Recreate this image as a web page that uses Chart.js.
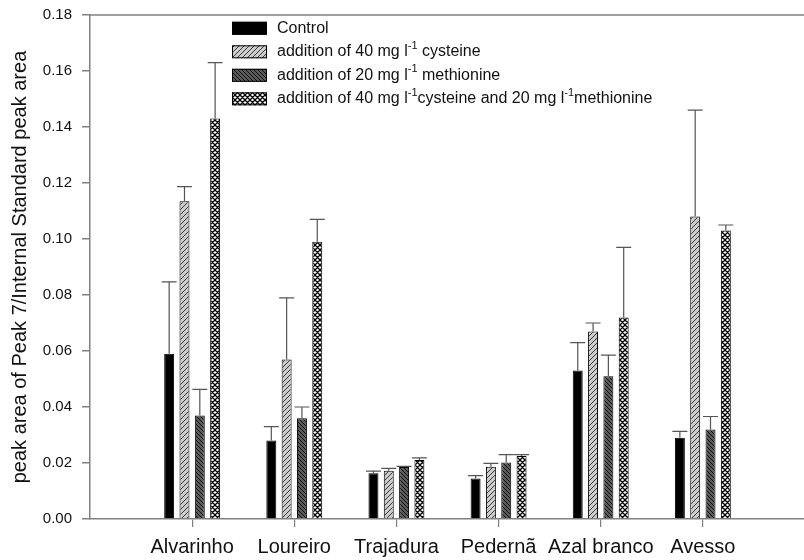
<!DOCTYPE html>
<html>
<head>
<meta charset="utf-8">
<script src="https://cdn.jsdelivr.net/npm/chart.js@4.4.1/dist/chart.umd.min.js"></script>
<style>
  html, body { margin: 0; padding: 0; background: #fff; overflow: hidden; }
  canvas { display: block; }
</style>
</head>
<body>
<canvas id="chart" width="813" height="560"></canvas>
<script>
const categories = ['Alvarinho', 'Loureiro', 'Trajadura', 'Pedernã', 'Azal branco', 'Avesso'];

// means
const control    = [0.059, 0.028, 0.0163, 0.0145, 0.053, 0.029];
const cysteine   = [0.1135, 0.057, 0.0172, 0.0187, 0.067, 0.108];
const methionine = [0.037, 0.036, 0.0186, 0.0202, 0.051, 0.032];
const combined   = [0.143, 0.099, 0.0211, 0.0225, 0.072, 0.103];

// upper error (sd)
const controlErr    = [0.0257, 0.005, 0.0008, 0.001, 0.010, 0.0023];
const cysteineErr   = [0.0052, 0.022, 0.0009, 0.0012, 0.003, 0.038];
const methionineErr = [0.0093, 0.004, 0.0002, 0.0028, 0.0075, 0.0046];
const combinedErr   = [0.020, 0.008, 0.0007, 0.0005, 0.025, 0.002];

// '^' toggles superscript
const seriesNames = [
  'Control',
  'addition of 40 mg l^-1^ cysteine',
  'addition of 20 mg l^-1^ methionine',
  'addition of 40 mg l^-1^cysteine and 20 mg l^-1^methionine'
];

const yTicks = [0, 0.02, 0.04, 0.06, 0.08, 0.10, 0.12, 0.14, 0.16, 0.18];
const yTitle = 'peak area of Peak 7/Internal Standard peak area';

const family = '"Liberation Sans", Arial, Helvetica, sans-serif';
const axisColor = '#808080';

const canvas = document.getElementById('chart');
const ctx = canvas.getContext('2d');

// hatch fills
function hatch(bg, fg, dir, size, lw) {
  const c = document.createElement('canvas');
  c.width = c.height = size;
  const g = c.getContext('2d');
  g.fillStyle = bg;
  g.fillRect(0, 0, size, size);
  if (dir) {
    g.strokeStyle = fg;
    g.lineWidth = lw;
    g.beginPath();
    if (dir === '/' || dir === 'x') {
      g.moveTo(0, size); g.lineTo(size, 0);
      g.moveTo(-1, 1); g.lineTo(1, -1);
      g.moveTo(size - 1, size + 1); g.lineTo(size + 1, size - 1);
    }
    if (dir === '\\' || dir === 'x') {
      g.moveTo(0, 0); g.lineTo(size, size);
      g.moveTo(size - 1, -1); g.lineTo(size + 1, 1);
      g.moveTo(-1, size - 1); g.lineTo(1, size + 1);
    }
    g.stroke();
  }
  return ctx.createPattern(c, 'repeat');
}

const fills = [
  '#000',
  hatch('#cccccc', '#3a3a3a', '/', 5, 1),
  hatch('#5a5a5a', '#111', '\\', 4, 1),
  hatch('#fff', '#000', 'x', 5, 1.3)
];

const labels = ['', ...categories, ''];
const pad = (arr) => [null, ...arr, null];
const seriesValues = [control, cysteine, methionine, combined];
const seriesErrors = [controlErr, cysteineErr, methionineErr, combinedErr];

const errorBars = {
  id: 'errorBars',
  afterDatasetsDraw(chart) {
    const { ctx, scales: { y } } = chart;
    ctx.save();
    ctx.strokeStyle = '#555';
    ctx.lineWidth = 1.2;
    chart.data.datasets.forEach((ds, i) => {
      chart.getDatasetMeta(i).data.forEach((bar, j) => {
        const v = ds.data[j];
        if (v == null) return;
        const top = y.getPixelForValue(v + seriesErrors[i][j - 1]);
        ctx.beginPath();
        ctx.moveTo(bar.x, bar.y);
        ctx.lineTo(bar.x, top);
        ctx.moveTo(bar.x - 7.5, top);
        ctx.lineTo(bar.x + 7.5, top);
        ctx.stroke();
      });
    });
    ctx.restore();
  }
};

// top frame line
const frame = {
  id: 'frame',
  beforeDatasetsDraw(chart) {
    const { ctx, chartArea: a } = chart;
    ctx.save();
    ctx.strokeStyle = axisColor;
    ctx.lineWidth = 1.5;
    ctx.beginPath();
    ctx.moveTo(a.left, a.top);
    ctx.lineTo(a.right, a.top);
    ctx.stroke();
    ctx.restore();
  }
};

// legend with superscripts
const legendBox = {
  id: 'legendBox',
  afterDraw(chart) {
    const { ctx } = chart;
    ctx.save();
    seriesNames.forEach((name, i) => {
      const cy = 28.3 + i * 23.5;
      ctx.fillStyle = fills[i];
      ctx.fillRect(232, cy - 6.5, 35, 13);
      ctx.strokeStyle = '#000';
      ctx.lineWidth = 1;
      ctx.strokeRect(232.5, cy - 6, 34, 12);

      let x = 277;
      ctx.fillStyle = '#111';
      ctx.textBaseline = 'middle';
      ctx.textAlign = 'left';
      name.split('^').forEach((part, k) => {
        const sup = k % 2 === 1;
        ctx.font = (sup ? '11px ' : '16px ') + family;
        ctx.fillText(part, x, sup ? cy - 6 : cy);
        x += ctx.measureText(part).width;
      });
    });
    ctx.restore();
  }
};

new Chart(ctx, {
  type: 'bar',
  data: {
    labels: labels,
    datasets: seriesValues.map((vals, i) => ({
      label: seriesNames[i],
      data: pad(vals),
      backgroundColor: fills[i],
      borderColor: '#000',
      borderWidth: 1,
      categoryPercentage: 0.6,
      barPercentage: 0.65
    }))
  },
  options: {
    responsive: false,
    animation: false,
    layout: { padding: { top: 15, right: 1, bottom: 1, left: 0 } },
    plugins: {
      legend: { display: false },
      tooltip: { enabled: false }
    },
    scales: {
      x: {
        offset: false,
        afterFit: (s) => { s.height = 40; },
        border: { color: axisColor, width: 1.5 },
        grid: {
          offset: false,
          drawOnChartArea: false,
          tickLength: 8,
          lineWidth: 1.2,
          color: (c) => (c.index === 0 || c.index === labels.length - 1) ? 'rgba(0,0,0,0)' : axisColor
        },
        ticks: {
          padding: 8,
          color: '#111',
          font: { size: 20, family: family },
          maxRotation: 0,
          autoSkip: false
        }
      },
      y: {
        min: 0,
        max: 0.18,
        afterFit: (s) => { s.width = 90; s.paddingTop = 0; },
        afterBuildTicks: (s) => { s.ticks = yTicks.map((v) => ({ value: v })); },
        border: { color: axisColor, width: 1.5 },
        grid: { drawOnChartArea: false, tickLength: 8, color: axisColor, lineWidth: 1.5 },
        ticks: {
          padding: 10,
          color: '#111',
          font: { size: 15, family: family },
          callback: (v) => v.toFixed(2)
        },
        title: {
          display: true,
          text: yTitle,
          color: '#111',
          font: { size: 20, family: family },
          padding: { top: 8, bottom: 0 }
        }
      }
    }
  },
  plugins: [frame, errorBars, legendBox]
});
</script>
</body>
</html>
